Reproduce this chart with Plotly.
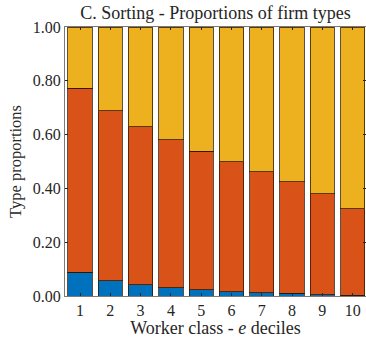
import plotly.graph_objects as go

# Worker-class deciles and the share of each firm type within them
deciles = [1, 2, 3, 4, 5, 6, 7, 8, 9, 10]
tick_labels = ["1", "2", "3", "4", "5", "6", "7", "8", "9", "10"]
low_type = [0.089, 0.057, 0.041, 0.030, 0.023, 0.016, 0.012, 0.010, 0.005, 0.003]
mid_type = [0.684, 0.632, 0.588, 0.550, 0.516, 0.483, 0.449, 0.414, 0.375, 0.322]
high_type = [round(1 - a - b, 3) for a, b in zip(low_type, mid_type)]

colors = ["#0072BD", "#D95319", "#EDB120"]
series = [low_type, mid_type, high_type]
names = ["Low", "Middle", "High"]

serif = "Liberation Serif, Times New Roman, serif"

fig = go.Figure()
for vals, col, nm in zip(series, colors, names):
    fig.add_trace(go.Bar(
        x=deciles, y=vals, name=nm,
        marker=dict(color=col, line=dict(color="rgba(40,20,0,0.75)", width=1)),
    ))

axis_common = dict(
    showline=True, linecolor="#7a7a7a", linewidth=1,
    mirror="ticks", ticks="inside", ticklen=3, tickcolor="#262626",
    showgrid=False, zeroline=False,
    tickfont=dict(family=serif, size=16, color="#262626"),
)

fig.update_layout(
    width=366, height=338,
    margin=dict(l=65, r=0, t=27, b=42),
    paper_bgcolor="white", plot_bgcolor="white",
    barmode="stack", bargap=0.2,
    showlegend=False,
    title=dict(
        text="C. Sorting - Proportions of firm types",
        x=(65 + 366) / 2 / 366, xanchor="center",
        y=1 - 13 / 338, yanchor="middle",
        font=dict(family=serif, size=18, color="#262626"),
    ),
    xaxis=dict(
        range=[0.505, 10.44],
        tickmode="array", tickvals=deciles, ticktext=tick_labels,
        title=dict(text="Worker class - <i>e</i> deciles", standoff=6,
                   font=dict(family=serif, size=18, color="#262626")),
        **axis_common,
    ),
    yaxis=dict(
        range=[0, 1],
        tickmode="array", tickvals=[0, 0.2, 0.4, 0.6, 0.8, 1.0],
        ticktext=["0.00", "0.20", "0.40", "0.60", "0.80", "1.00"],
        title=dict(text="Type proportions", standoff=7,
                   font=dict(family=serif, size=16.5, color="#262626")),
        **axis_common,
    ),
)

fig.write_html("out.html")
